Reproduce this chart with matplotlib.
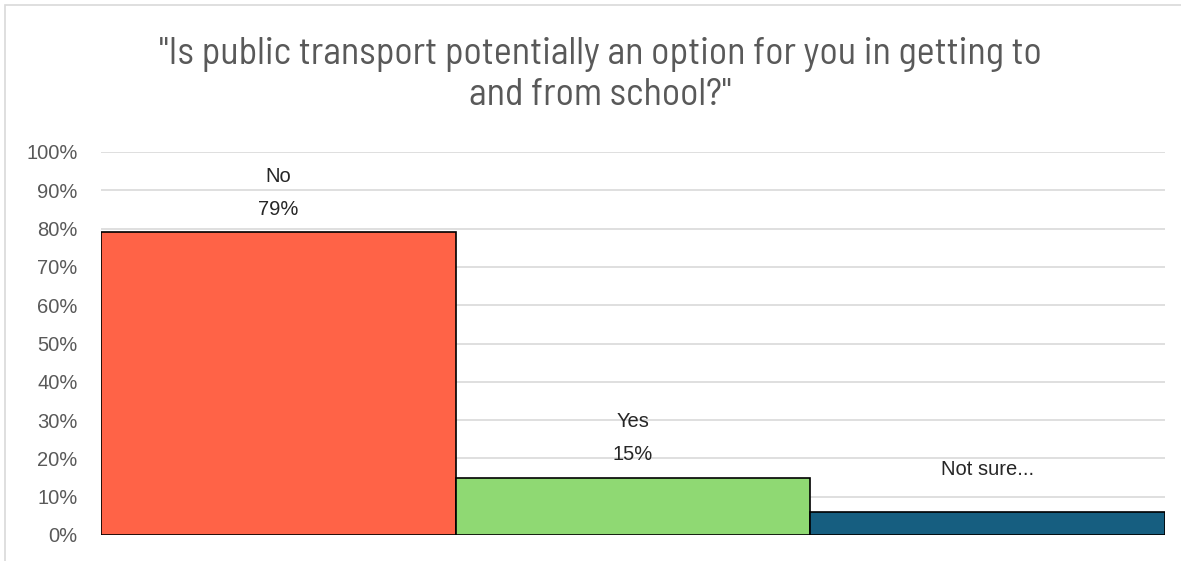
import matplotlib.pyplot as plt
from matplotlib.patches import Rectangle

# survey answers and shares (%)
answers = ["No", "Yes", "Not sure..."]
shares = [79, 15, 6]
show_pct = [True, True, False]
colors = ["#FF6347", "#8FD973", "#165E80"]
yticks = list(range(0, 101, 10))

title = "\"Is public transport potentially an option for you in getting to\nand from school?\""
body_font = ["Liberation Sans", "DejaVu Sans"]

fig = plt.figure(figsize=(11.81, 5.61), dpi=100)
ax = fig.add_axes([101 / 1181, 26 / 561, 1064 / 1181, 383 / 561])

# light frame round the chart
fig.patches.append(Rectangle((5 / 1181, -0.1), 1.1, 1.1 - 5 / 561,
                             transform=fig.transFigure, fill=False,
                             edgecolor="#d9d9d9", linewidth=1.2))

x = range(len(answers))
bars = ax.bar(x, shares, width=1.0, color=colors, edgecolor="black",
              linewidth=1.2, zorder=3)

for b, name, v, pct in zip(bars, answers, shares, show_pct):
    txt = f"{name}\n{v}%" if pct else name
    ax.annotate(txt, (b.get_x() + b.get_width() / 2, v),
                xytext=(0, 10 if pct else 24), textcoords="offset points",
                ha="center", va="bottom", fontsize=14.5, color="#262626",
                linespacing=1.9, family=body_font)

ax.set_xlim(-0.5, 2.5)
ax.set_ylim(0, 100)
ax.set_yticks(yticks)
ax.set_yticklabels([f"{t}%" for t in yticks])
ax.set_xticks([])
ax.tick_params(axis="y", length=0, pad=17, labelsize=14.5, labelcolor="#595959")
for lbl in ax.get_yticklabels():
    lbl.set_family(body_font)
ax.grid(axis="y", color="#d9d9d9", linewidth=1.2, zorder=0)
for s in ax.spines.values():
    s.set_visible(False)

fig.text(600 / 1181, 1 - 75 / 561, title, ha="center", va="center",
         fontsize=27.5, color="#595959", linespacing=1.22,
         family=["Barlow Semi Condensed", "Archivo Narrow", "DejaVu Sans"])

fig.savefig("out.png", dpi=100)
